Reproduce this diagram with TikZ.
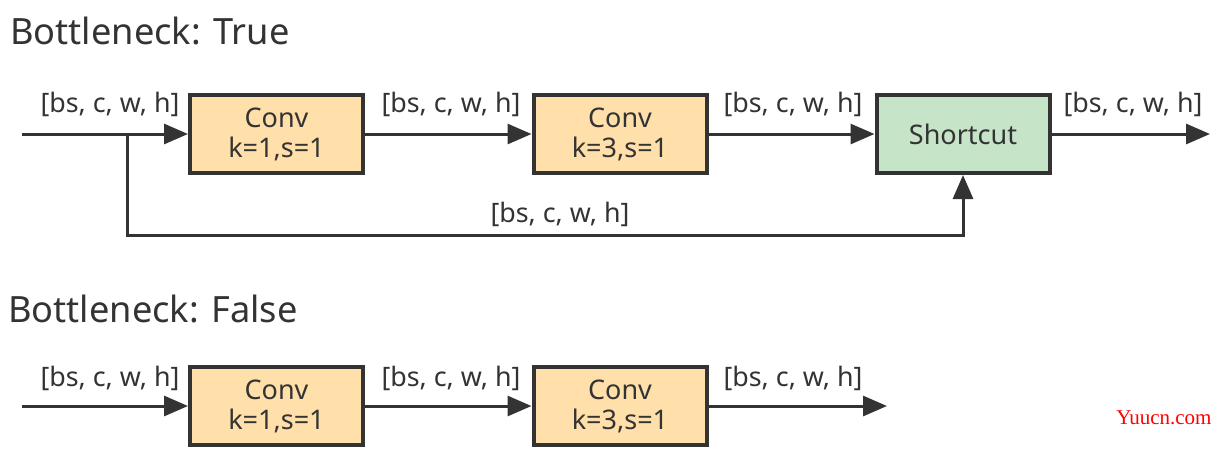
\documentclass[tikz,border=0pt]{standalone}
\usepackage{fontspec}
\setmainfont{Noto Sans}
\newfontfamily\wmfont{Liberation Serif}
\usetikzlibrary{arrows.meta}
\definecolor{ink}{HTML}{333333}
\definecolor{convfill}{HTML}{FFDFAA}
\definecolor{scfill}{HTML}{C6E5C8}
\tikzset{
  blk/.style={draw=ink, line width=2pt, minimum width=86.5pt, minimum height=39pt, inner sep=0pt, text=ink, align=center, font=\fontsize{13.5}{15}\selectfont},
  conv/.style={blk, fill=convfill},
  sc/.style={blk, fill=scfill},
  conn/.style={draw=ink, line width=1.5pt},
  arr/.style={conn, -{Triangle[length=12pt,width=10pt]}},
  lbl/.style={text=ink, font=\fontsize{13.4}{15}\selectfont, inner sep=0pt},
  ttl/.style={text=ink, font=\fontsize{18.1}{20}\selectfont, inner sep=0pt, anchor=west},
}
\begin{document}
\begin{tikzpicture}[x=0.5pt,y=-0.5pt]
\useasboundingbox (0,0) rectangle (1225,473);
% row 1
\node[ttl] (t1) at (10,31) {Bottleneck: True};
\node[conv] (c1) at (276.5,134) {Conv\\k=1,s=1};
\node[conv] (c2) at (620,134) {Conv\\k=3,s=1};
\node[sc] (s1) at (963,134) {Shortcut};
\coordinate (in1) at (22,134);
\coordinate (br) at (127,134);
\coordinate (out1) at (1210,134);
\draw[arr] (in1) -- (c1.west);
\draw[arr] (c1.east) -- (c2.west);
\draw[arr] (c2.east) -- (s1.west);
\draw[arr] (s1.east) -- (out1);
\draw[arr] (br) |- (543,235) -| (s1.south);
\node[lbl] (l1) at (110,104) {[bs, c, w, h]};
\node[lbl] (l2) at (451,104) {[bs, c, w, h]};
\node[lbl] (l3) at (793,104) {[bs, c, w, h]};
\node[lbl] (l4) at (1133,104) {[bs, c, w, h]};
\node[lbl] (l5) at (560,214) {[bs, c, w, h]};
% row 2
\node[ttl] (t2) at (8,309) {Bottleneck: False};
\node[conv] (c3) at (276.5,406) {Conv\\k=1,s=1};
\node[conv] (c4) at (620,406) {Conv\\k=3,s=1};
\coordinate (in2) at (22,406);
\coordinate (out2) at (887,406);
\draw[arr] (in2) -- (c3.west);
\draw[arr] (c3.east) -- (c4.west);
\draw[arr] (c4.east) -- (out2);
\node[lbl] (l6) at (110,378) {[bs, c, w, h]};
\node[lbl] (l7) at (451,378) {[bs, c, w, h]};
\node[lbl] (l8) at (793,378) {[bs, c, w, h]};
\node[text=red, font=\wmfont\fontsize{10.5}{12}\selectfont, inner sep=0pt] (wm) at (1164,418) {Yuucn.com};
\end{tikzpicture}
\end{document}
